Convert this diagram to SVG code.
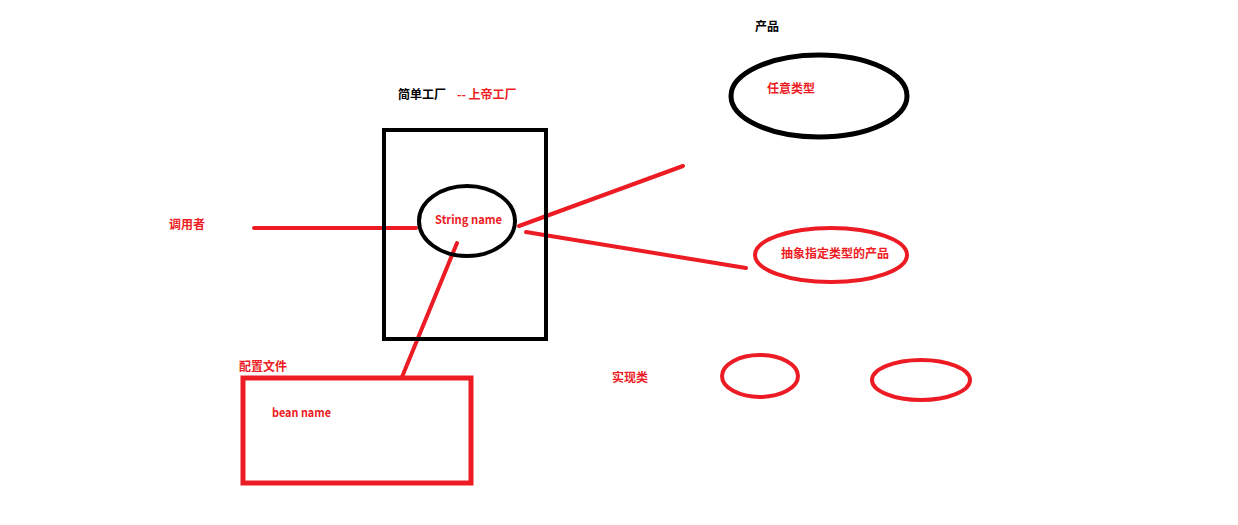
<svg xmlns="http://www.w3.org/2000/svg" width="1238" height="525" viewBox="0 0 1238 525">
  <style>
    .t { font-family: "Noto Sans CJK SC", "Liberation Sans", sans-serif; font-size: 12px; font-weight: bold; }
    .red { fill: #ed1c24; }
    .blk { fill: #000000; }
    .sr { stroke: #ed1c24; fill: none; }
    .sk { stroke: #000000; fill: none; }
    .ln { stroke: #ed1c24; stroke-width: 4; fill: none; stroke-linecap: round; }
  </style>
  <rect width="1238" height="525" fill="#ffffff"/>

  <!-- connectors -->
  <g id="connectors">
    <line class="ln" x1="254" y1="228" x2="416" y2="228"/>
    <line class="ln" x1="519" y1="226" x2="683" y2="166"/>
    <line class="ln" x1="526" y1="232" x2="746" y2="268"/>
    <line class="ln" x1="457" y1="243" x2="402" y2="377"/>
  </g>

  <!-- factory box -->
  <g id="factory">
    <rect class="sk" x="384" y="130" width="162" height="209" stroke-width="4"/>
    <text class="t blk" x="398" y="99">简单工厂</text>
    <text class="t red" x="457" y="99">-- 上帝工厂</text>
  </g>

  <g id="string-name">
    <ellipse class="sk" cx="467" cy="221" rx="48" ry="35" stroke-width="4"/>
    <text class="t red" x="435" y="224" textLength="67" lengthAdjust="spacingAndGlyphs">String name</text>
  </g>

  <g id="caller">
    <text class="t red" x="169" y="229">调用者</text>
  </g>

  <g id="config">
    <rect class="sr" x="243" y="378" width="228" height="105" stroke-width="5"/>
    <text class="t red" x="239" y="371">配置文件</text>
    <text class="t red" x="272" y="417" textLength="59" lengthAdjust="spacingAndGlyphs">bean name</text>
  </g>

  <g id="product">
    <text class="t blk" x="755" y="31">产品</text>
    <ellipse class="sk" cx="819" cy="96" rx="88" ry="41" stroke-width="5"/>
    <text class="t red" x="767" y="93">任意类型</text>
  </g>

  <g id="abstract-product">
    <ellipse class="sr" cx="831" cy="255" rx="76" ry="27" stroke-width="4"/>
    <text class="t red" x="781" y="258">抽象指定类型的产品</text>
  </g>

  <g id="impl">
    <text class="t red" x="612" y="382">实现类</text>
    <ellipse class="sr" cx="760" cy="376" rx="38" ry="21" stroke-width="4"/>
    <ellipse class="sr" cx="921" cy="380" rx="49" ry="20" stroke-width="4"/>
  </g>
</svg>
